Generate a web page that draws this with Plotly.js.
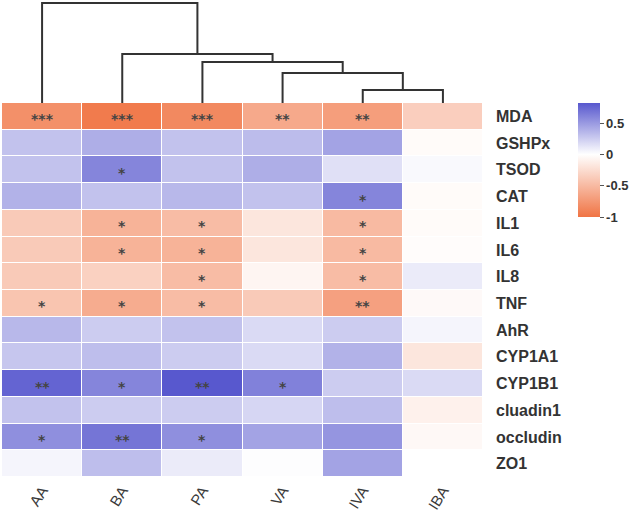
<!DOCTYPE html>
<html>
<head>
<meta charset="utf-8">
<script src="https://cdn.plot.ly/plotly-3.0.1.min.js"></script>
<style>html,body{margin:0;padding:0;background:#fff;}#chart{width:636px;height:517px;}</style>
</head>
<body>
<div id="chart"></div>
<script>
// Column groups (dendrogram leaf order) and row labels
const groups = ['AA', 'BA', 'PA', 'VA', 'IVA', 'IBA'];
const genes = ['MDA', 'GSHPx', 'TSOD', 'CAT', 'IL1', 'IL6', 'IL8', 'TNF', 'AhR', 'CYP1A1', 'CYP1B1', 'cluadin1', 'occludin', 'ZO1'];

// Correlation values per row (AA, BA, PA, VA, IVA, IBA)
const MDA      = [-0.80, -0.95, -0.85, -0.62, -0.70, -0.35];
const GSHPx    = [ 0.30,  0.40,  0.30,  0.33,  0.45, -0.03];
const TSOD     = [ 0.30,  0.60,  0.30,  0.40,  0.15,  0.03];
const CAT      = [ 0.38,  0.30,  0.35,  0.30,  0.60, -0.03];
const IL1      = [-0.38, -0.55, -0.48, -0.18, -0.50, -0.03];
const IL6      = [-0.38, -0.55, -0.55, -0.18, -0.50, -0.02];
const IL8      = [-0.38, -0.33, -0.48, -0.07, -0.48,  0.10];
const TNF      = [-0.42, -0.60, -0.48, -0.38, -0.68, -0.04];
const AhR      = [ 0.35,  0.25,  0.30,  0.18,  0.25,  0.05];
const CYP1A1   = [ 0.28,  0.32,  0.25,  0.18,  0.38, -0.18];
const CYP1B1   = [ 0.76,  0.60,  0.82,  0.62,  0.25,  0.18];
const cluadin1 = [ 0.30,  0.25,  0.25,  0.20,  0.32, -0.10];
const occludin = [ 0.55,  0.68,  0.55,  0.45,  0.52, -0.05];
const ZO1      = [ 0.05,  0.32,  0.10,  0.01,  0.45,  0.00];

// Significance marks per row
const sMDA      = ['***', '***', '***', '**', '**', ''];
const sGSHPx    = ['', '', '', '', '', ''];
const sTSOD     = ['', '*', '', '', '', ''];
const sCAT      = ['', '', '', '', '*', ''];
const sIL1      = ['', '*', '*', '', '*', ''];
const sIL6      = ['', '*', '*', '', '*', ''];
const sIL8      = ['', '', '*', '', '*', ''];
const sTNF      = ['*', '*', '*', '', '**', ''];
const sAhR      = ['', '', '', '', '', ''];
const sCYP1A1   = ['', '', '', '', '', ''];
const sCYP1B1   = ['**', '*', '**', '*', '', ''];
const scluadin1 = ['', '', '', '', '', ''];
const soccludin = ['*', '**', '*', '', '', ''];
const sZO1      = ['', '', '', '', '', ''];

// Column dendrogram linkage (leaf ids 0..5, cluster ids 6..)
const mergeA = [4, 3, 2, 1, 0];
const mergeB = [5, 6, 7, 8, 9];
const mergeH = [13, 30, 41, 49, 100];

const z = [MDA, GSHPx, TSOD, CAT, IL1, IL6, IL8, TNF, AhR, CYP1A1, CYP1B1, cluadin1, occludin, ZO1];
const stars = [sMDA, sGSHPx, sTSOD, sCAT, sIL1, sIL6, sIL8, sTNF, sAhR, sCYP1A1, sCYP1B1, scluadin1, soccludin, sZO1];

const zmin = -1, zmax = 0.82;
const mid = (0 - zmin) / (zmax - zmin);
const colorscale = [
  [0, 'rgb(240,116,68)'],
  [mid, 'rgb(255,255,255)'],
  [1, 'rgb(88,88,206)']
];

const heat = {
  type: 'heatmap',
  x: groups, y: genes, z: z,
  zmin: zmin, zmax: zmax,
  colorscale: colorscale,
  xgap: 1, ygap: 1,
  hoverinfo: 'x+y+z',
  colorbar: {
    x: (578 - 2) / 481, xanchor: 'left', xpad: 0,
    y: 1 - 103 / 477, yanchor: 'top', ypad: 0,
    len: 114, lenmode: 'pixels',
    thickness: 22, thicknessmode: 'pixels',
    outlinewidth: 0,
    tickvals: [-1, -0.5, 0, 0.5],
    ticktext: ['-1', '-0.5', '0', '0.5'],
    ticks: 'outside', ticklen: 4, tickcolor: '#555', tickwidth: 1,
    tickfont: {family: 'Liberation Sans, Arial, sans-serif', size: 13, color: '#333', weight: 'bold'}
  }
};

// Dendrogram segments from linkage
const nodeX = groups.map((g, i) => i);
const nodeH = groups.map(() => 0);
const dx = [], dy = [];
for (let k = 0; k < mergeA.length; k++) {
  const a = mergeA[k], b = mergeB[k], h = mergeH[k];
  dx.push(nodeX[a], nodeX[a], nodeX[b], nodeX[b], null);
  dy.push(nodeH[a], h, h, nodeH[b], null);
  nodeX.push((nodeX[a] + nodeX[b]) / 2);
  nodeH.push(h);
}
const dendro = {
  type: 'scatter', mode: 'lines',
  x: dx, y: dy, xaxis: 'x2', yaxis: 'y2',
  line: {color: '#333', width: 2},
  hoverinfo: 'skip', showlegend: false, connectgaps: false
};

const annotations = [];
for (let r = 0; r < genes.length; r++) {
  for (let c = 0; c < groups.length; c++) {
    if (stars[r][c]) {
      annotations.push({
        x: groups[c], y: genes[r], xref: 'x', yref: 'y',
        text: stars[r][c], showarrow: false,
        font: {family: 'DejaVu Sans, sans-serif', size: 14, color: '#444', weight: 'bold'},
        yshift: -3
      });
    }
  }
}

const hmTop = 1 - 103 / 477;
const layout = {
  width: 636, height: 517,
  margin: {l: 2, r: 153, t: 0, b: 40},
  paper_bgcolor: '#fff', plot_bgcolor: '#fff',
  showlegend: false,
  xaxis: {
    domain: [0, 1], type: 'category', range: [-0.5, 5.5],
    tickangle: -58, ticks: '', showgrid: false, zeroline: false, showline: false,
    ticklabelstandoff: 1,
    tickfont: {family: 'Liberation Sans, Arial, sans-serif', size: 15, color: '#3a3a3a'}
  },
  yaxis: {
    domain: [0, hmTop], type: 'category', autorange: 'reversed',
    side: 'right', ticks: '', showgrid: false, zeroline: false, showline: false,
    ticklabelstandoff: 12,
    tickfont: {family: 'Liberation Sans, Arial, sans-serif', size: 16, color: '#333', weight: 'bold'}
  },
  xaxis2: {
    domain: [0, 1], anchor: 'y2', range: [-0.5, 5.5],
    showticklabels: false, showgrid: false, zeroline: false, showline: false, ticks: ''
  },
  yaxis2: {
    domain: [hmTop, 1], anchor: 'x2', range: [0, 103],
    showticklabels: false, showgrid: false, zeroline: false, showline: false, ticks: ''
  },
  annotations: annotations
};

Plotly.newPlot('chart', [heat, dendro], layout, {displayModeBar: false, staticPlot: true});
</script>
</body>
</html>
